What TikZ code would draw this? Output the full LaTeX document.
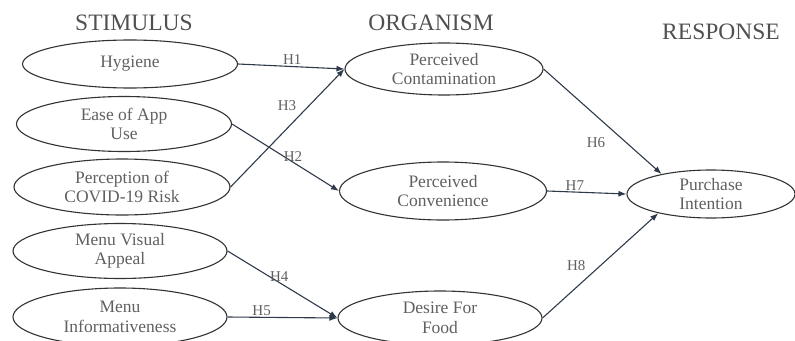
\documentclass[tikz,border=0pt]{standalone}
\usepackage{fontspec}
\setmainfont{Liberation Serif}
\usetikzlibrary{shapes.geometric,arrows.meta}

\definecolor{txtgray}{HTML}{606060}
\definecolor{headgray}{HTML}{505050}
\definecolor{linegray}{HTML}{333333}
\definecolor{arrowcol}{HTML}{2E3A4A}

\begin{document}
\begin{tikzpicture}[x=1pt,y=-1pt,
  construct/.style={ellipse,draw=linegray,line width=1.1pt,inner sep=0pt,align=center,
    text=txtgray,font=\fontsize{17.5}{19.5}\selectfont},
  heading/.style={text=headgray,font=\fontsize{23.5}{26}\selectfont},
  hyp/.style={text=txtgray,font=\fontsize{15}{17}\selectfont,inner sep=1.5pt},
  path/.style={draw=arrowcol,line width=1.1pt,-{Latex[length=8pt,width=6pt]}}]
\useasboundingbox (0,0) rectangle (795,340);
% headings
\node[heading] (stim) at (134,23) {STIMULUS};
\node[heading] (org) at (431,23) {ORGANISM};
\node[heading] (resp) at (721,32) {RESPONSE};
% stimulus
\node[construct,minimum width=215,minimum height=48] (hyg) at (130,64) {Hygiene};
\node[construct,minimum width=215,minimum height=55] (ease) at (124,124) {Ease of App\\Use};
\node[construct,minimum width=216,minimum height=56] (risk) at (122,187) {Perception of\\COVID-19 Risk};
\node[construct,minimum width=214,minimum height=55] (visual) at (120,251) {Menu Visual\\Appeal};
\node[construct,minimum width=214,minimum height=58] (info) at (120,317) {Menu\\Informativeness};
% organism
\node[construct,minimum width=198,minimum height=52] (contam) at (444,69) {Perceived\\Contamination};
\node[construct,minimum width=207,minimum height=58] (conv) at (443,191) {Perceived\\Convenience};
\node[construct,minimum width=204,minimum height=54] (desire) at (440,318) {Desire For\\Food};
% response
\node[construct,minimum width=168,minimum height=48] (purch) at (711,194) {Purchase\\Intention};
% paths
\draw[path] (hyg.east) -- node[hyp,pos=0.51,above] (h1) {H1} (contam.west);
\draw[path] (risk.east) -- node[hyp,pos=0.69,left=11pt] (h3) {H3} (contam.west);
\draw[path] (ease.east) -- node[hyp,pos=0.57,above,inner sep=0pt] (h2) {H2} (conv.west);
\draw[path] (visual.east) -- node[hyp,pos=0.47,above,inner sep=0pt] (h4) {H4} (desire.west);
\draw[path] (info.east) -- node[hyp,pos=0.31,above] (h5) {H5} (desire.west);
\draw[path] (contam.east) -- node[hyp,pos=0.7,left=19pt] (h6) {H6} (purch.158);
\draw[path] (conv.east) -- node[hyp,pos=0.35,above] (h7) {H7} (purch.west);
\draw[path] (desire.east) -- node[hyp,pos=0.5,left=13pt] (h8) {H8} (purch.200);
\end{tikzpicture}
\end{document}
